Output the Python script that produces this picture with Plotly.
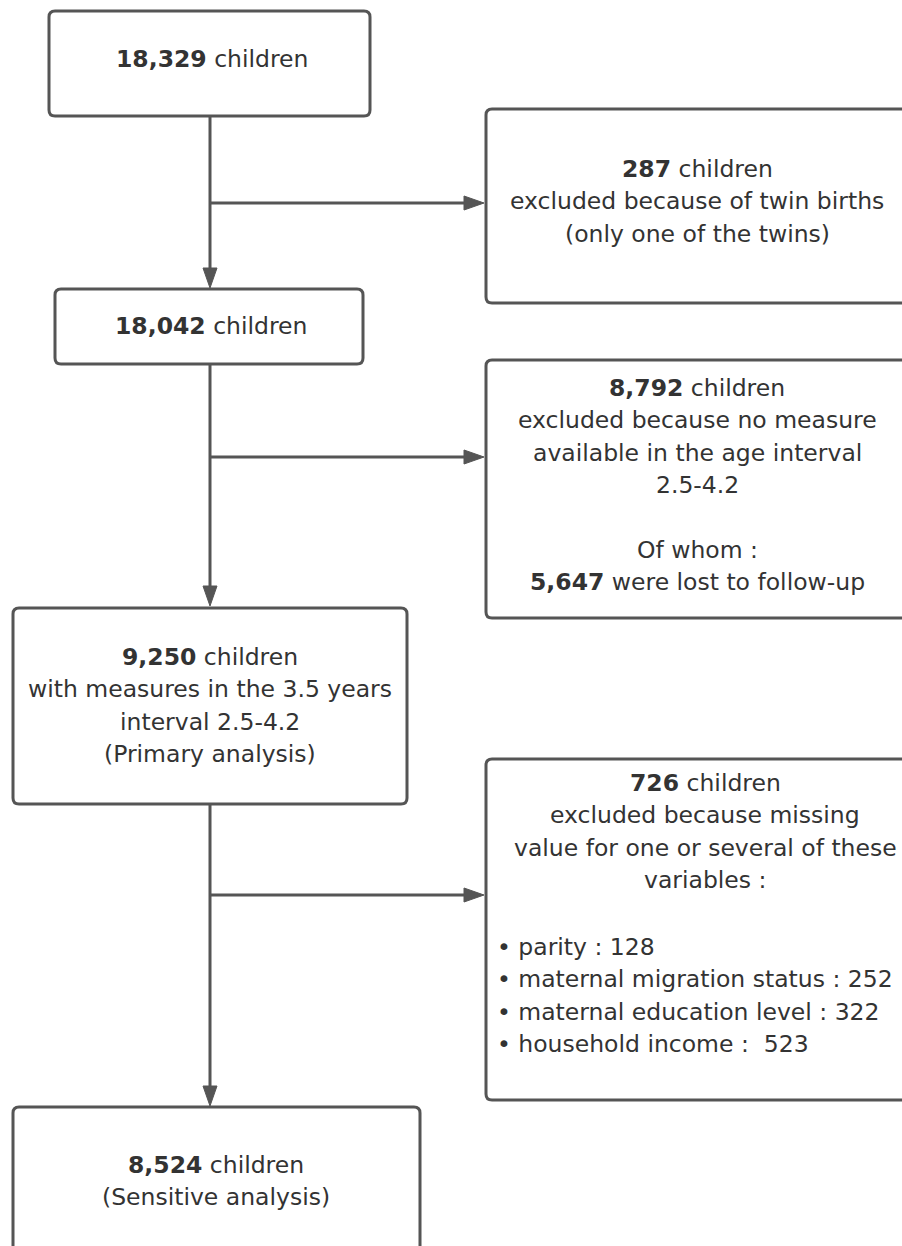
import plotly.graph_objects as go

# ---- data ----
total_children = 18329
twins_excluded = 287
after_twins = 18042
no_measure_excluded = 8792
lost_follow_up = 5647
primary_analysis = 9250
missing_excluded = 726
sensitive_analysis = 8524
missing_vars = ["parity", "maternal migration status", "maternal education level", "household income"]
missing_counts = [128, 252, 322, 523]

def n(v):
    return f"<b>{v:,}</b>"

FONT = "DejaVu Sans"
FS = 23.5
TXT = "#333333"
LINE = "#555555"
LW = 3
SP = 32.4

fig = go.Figure()
fig.update_layout(
    width=902, height=1246,
    margin=dict(l=0, r=0, t=0, b=0),
    paper_bgcolor="white", plot_bgcolor="white",
    xaxis=dict(range=[0, 902], visible=False, fixedrange=True),
    yaxis=dict(range=[1246, 0], visible=False, fixedrange=True),
    showlegend=False,
)

def rrect(x0, y0, x1, y1, r=6):
    p = (f"M {x0+r},{y0} L {x1-r},{y0} Q {x1},{y0} {x1},{y0+r} "
         f"L {x1},{y1-r} Q {x1},{y1} {x1-r},{y1} L {x0+r},{y1} "
         f"Q {x0},{y1} {x0},{y1-r} L {x0},{y0+r} Q {x0},{y0} {x0+r},{y0} Z")
    fig.add_shape(type="path", path=p, xref="x", yref="y",
                  line=dict(color=LINE, width=LW), fillcolor="rgba(0,0,0,0)")

def lines(xc, y0, texts, align="center", anchor="center"):
    for i, t in enumerate(texts):
        if t == "":
            continue
        fig.add_annotation(x=xc, y=y0 + i * SP, xref="x", yref="y", text=t,
                           showarrow=False, xanchor=anchor, yanchor="middle",
                           align=align, font=dict(family=FONT, size=FS, color=TXT))

def vline(x, ya, yb, arrow=True):
    fig.add_shape(type="line", x0=x, x1=x, y0=ya, y1=yb - (18 if arrow else 0),
                  xref="x", yref="y", line=dict(color=LINE, width=LW))
    if arrow:
        fig.add_shape(type="path", xref="x", yref="y",
                      path=f"M {x-7},{yb-20} L {x+7},{yb-20} L {x},{yb} Z",
                      fillcolor=LINE, line=dict(color=LINE, width=1))

def hline(y, xa, xb):
    fig.add_shape(type="line", x0=xa, x1=xb - 18, y0=y, y1=y,
                  xref="x", yref="y", line=dict(color=LINE, width=LW))
    fig.add_shape(type="path", xref="x", yref="y",
                  path=f"M {xb-20},{y-7} L {xb-20},{y+7} L {xb},{y} Z",
                  fillcolor=LINE, line=dict(color=LINE, width=1))

# boxes
rrect(49, 11, 370, 116)
rrect(55, 289, 363, 364)
rrect(13, 608, 407, 804)
rrect(13, 1107, 420, 1300)
rrect(486, 109, 920, 303)
rrect(486, 360, 920, 618)
rrect(486, 759, 920, 1100)

# connectors
XC = 210
vline(XC, 116, 288)
vline(XC, 364, 606)
vline(XC, 804, 1106)
hline(203, XC, 484)
hline(457, XC, 484)
hline(895, XC, 484)

# texts
lines(212, 59, [f"{n(total_children)} children"])
lines(211, 326, [f"{n(after_twins)} children"])
lines(210, 657, [f"{n(primary_analysis)} children",
                 "with measures in the 3.5 years",
                 "interval 2.5-4.2",
                 "(Primary analysis)"])
lines(216, 1165, [f"{n(sensitive_analysis)} children", "(Sensitive analysis)"])
lines(697, 169, [f"{n(twins_excluded)} children",
                 "excluded because of twin births",
                 "(only one of the twins)"])
lines(697, 388, [f"{n(no_measure_excluded)} children",
                 "excluded because no measure",
                 "available in the age interval",
                 "2.5-4.2",
                 "",
                 "Of whom :",
                 f"{n(lost_follow_up)} were lost to follow-up"])
lines(705, 783, [f"{n(missing_excluded)} children",
                 "excluded because missing",
                 "value for one or several of these",
                 "variables :"])
bullets = []
for name, c in zip(missing_vars, missing_counts):
    sep = " :\u00a0 " if name == "household income" else " : "
    bullets.append(f"\u2022 {name}{sep}{c}")
lines(495, 947, bullets, align="left", anchor="left")

fig.write_html("out.html",
               config={"displayModeBar": False},
               post_script="document.body.style.margin='0';document.body.style.overflow='hidden';")
